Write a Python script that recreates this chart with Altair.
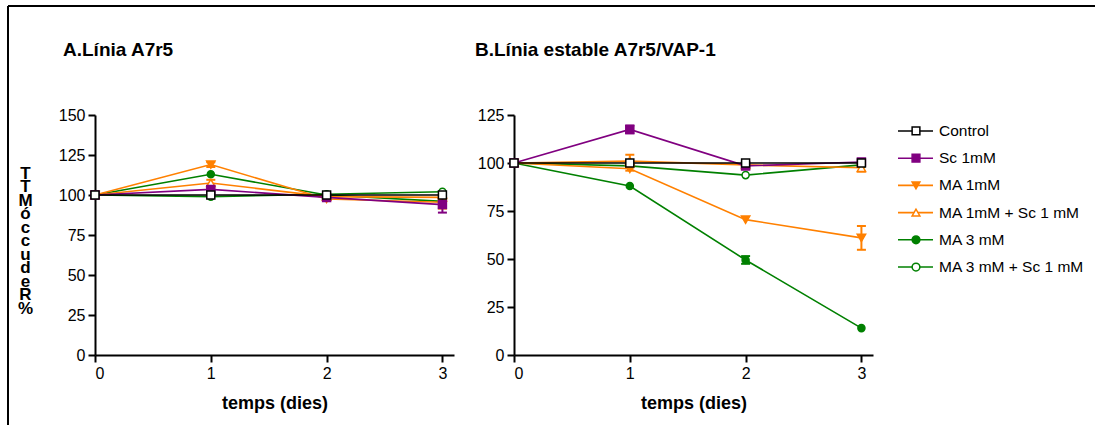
import altair as alt
import pandas as pd

FONT = "Liberation Sans"

days = [0, 1, 2, 3]
series = ["Control", "Sc 1mM", "MA 1mM", "MA 1mM + Sc 1 mM", "MA 3 mM", "MA 3 mM + Sc 1 mM"]
colors = ["#000000", "#800080", "#FF8000", "#FF8000", "#008000", "#008000"]
fills = ["#FFFFFF", "#800080", "#FF8000", "#FFFFFF", "#008000", "#FFFFFF"]
shapes = ["square", "square", "triangle-down", "triangle-up", "circle", "circle"]
sizes = [64, 64, 70, 70, 50, 50]

panel_titles = ["A.Línia A7r5", "B.Línia estable A7r5/VAP-1"]

# Panel A: Línia A7r5 (values per day 0..3)
a_values = {
    "Control": [100, 100, 100, 100],
    "Sc 1mM": [100, 103.5, 98.5, 94],
    "MA 1mM": [100, 119, 97.5, 95.5],
    "MA 1mM + Sc 1 mM": [100, 107.5, 99, 98.5],
    "MA 3 mM": [100, 113, 100, 96],
    "MA 3 mM + Sc 1 mM": [100, 99, 100.5, 102],
}
a_errors = {
    "Control": [0, 0, 0, 0],
    "Sc 1mM": [0, 0, 0, 5],
    "MA 1mM": [0, 1.5, 0, 4],
    "MA 1mM + Sc 1 mM": [0, 2, 0, 0],
    "MA 3 mM": [0, 0, 0, 0],
    "MA 3 mM + Sc 1 mM": [0, 0, 0, 0],
}

# Panel B: Línia estable A7r5/VAP-1
b_values = {
    "Control": [100, 100, 100, 100],
    "Sc 1mM": [100, 117.5, 98.5, 100.5],
    "MA 1mM": [100, 97, 70.5, 61],
    "MA 1mM + Sc 1 mM": [100, 101, 99, 97.5],
    "MA 3 mM": [100, 88, 49.5, 14],
    "MA 3 mM + Sc 1 mM": [100, 98.5, 93.7, 99],
}
b_errors = {
    "Control": [0, 0, 0, 0],
    "Sc 1mM": [0, 2, 0, 0],
    "MA 1mM": [0, 1, 0, 6.2],
    "MA 1mM + Sc 1 mM": [0, 3.3, 0, 2],
    "MA 3 mM": [0, 0, 2, 0],
    "MA 3 mM + Sc 1 mM": [0, 0, 0, 0],
}

y_title_chars = ["T", "T", "M", "ó", "c", "c", "u", "d", "e", "R", "%"]

rows = []
for pname, vals, errs in [("A", a_values, a_errors), ("B", b_values, b_errors)]:
    for s in series:
        for d, v, e in zip(days, vals[s], errs[s]):
            rows.append({"panel": pname, "series": s, "day": d, "value": v, "err": e})
df = pd.DataFrame(rows)

W, H = 359, 240


def make_x():
    return alt.X(
        "day:Q",
        scale=alt.Scale(domain=[0, 3.1], nice=False),
        axis=alt.Axis(values=days, format="d", title="temps (dies)",
                      titleFontSize=18, titleFontWeight="bold", titleFont=FONT,
                      titleBaseline="alphabetic", titleY=53, titleColor="#000000",
                      labelPadding=3),
    )


def make_y(field, ymax, with_title):
    kw = dict(values=list(range(0, ymax + 1, 25)), labelPadding=3)
    if with_title:
        kw.update(title=y_title_chars, titleAngle=0, titleX=-70, titleY=50,
                  titleAlign="center", titleBaseline="top", titleFontSize=17,
                  titleFontWeight="bold", titleFont=FONT, titleLineHeight=13.5,
                  titleColor="#000000")
    else:
        kw.update(title="")
    return alt.Y(field, scale=alt.Scale(domain=[0, ymax], nice=False), axis=alt.Axis(**kw))


def panel(pname, ymax, title_text, title_dx, with_ytitle, frame=False):
    layers = []
    one = pd.DataFrame({"t": [title_text]})
    if frame:
        layers.append(alt.Chart(one).mark_rule(color="#000000", strokeWidth=2).encode(
            x=alt.value(-87), y=alt.value(-109), y2=alt.value(310)))
        layers.append(alt.Chart(one).mark_rule(color="#000000", strokeWidth=2).encode(
            x=alt.value(-87), x2=alt.value(1000), y=alt.value(-109)))
    layers.append(alt.Chart(one).mark_text(
        align="left", baseline="alphabetic", fontSize=19, fontWeight="bold",
        font=FONT, color="#000000").encode(
        x=alt.value(title_dx), y=alt.value(-59), text="t:N"))
    for i in reversed(range(len(series))):
        s = series[i]
        base = alt.Chart(df).transform_filter(
            (alt.datum.panel == pname) & (alt.datum.series == s)
        )
        x = make_x()
        line = base.mark_line(color=colors[i], strokeWidth=1.6).encode(
            x=x, y=make_y("value:Q", ymax, with_ytitle))
        eb = base.transform_filter(alt.datum.err > 0).transform_calculate(
            lo="datum.value - datum.err", hi="datum.value + datum.err")
        rule = eb.mark_rule(color=colors[i], strokeWidth=2).encode(
            x=x, y=make_y("lo:Q", ymax, with_ytitle), y2="hi:Q")
        cap_lo = eb.mark_tick(color=colors[i], orient="horizontal", size=9,
                              thickness=2, opacity=1).encode(
            x=x, y=make_y("lo:Q", ymax, with_ytitle))
        cap_hi = eb.mark_tick(color=colors[i], orient="horizontal", size=9,
                              thickness=2, opacity=1).encode(
            x=x, y=make_y("hi:Q", ymax, with_ytitle))
        pts = base.mark_point(shape=shapes[i], filled=True, fill=fills[i],
                              stroke=colors[i], strokeWidth=1.5, size=sizes[i],
                              opacity=1).encode(
            x=x, y=make_y("value:Q", ymax, with_ytitle))
        layers += [line, rule, cap_lo, cap_hi, pts]
    return alt.layer(*layers).properties(width=W, height=H)


chart_a = panel("A", 150, panel_titles[0], -32, True, frame=True)
chart_b = panel("B", 125, panel_titles[1], -39, False)

leg_df = pd.DataFrame({"series": series})
ly = alt.Y("series:N", sort=series, scale=alt.Scale(type="point", padding=0.588), axis=None)
cscale = alt.Scale(domain=series, range=colors)
fscale = alt.Scale(domain=series, range=fills)
sscale = alt.Scale(domain=series, range=shapes)
leg_base = alt.Chart(leg_df)
leg_line = leg_base.mark_rule(strokeWidth=1.6).encode(
    x=alt.value(-35), x2=alt.value(0), y=ly,
    color=alt.Color("series:N", scale=cscale, legend=None))
leg_pts = leg_base.mark_point(filled=True, strokeWidth=1.5, size=60, opacity=1).encode(
    x=alt.value(-17), y=ly,
    stroke=alt.Stroke("series:N", scale=cscale, legend=None),
    fill=alt.Fill("series:N", scale=fscale, legend=None),
    shape=alt.Shape("series:N", scale=sscale, legend=None))
leg_text = leg_base.mark_text(align="left", baseline="middle", fontSize=15.5,
                              font=FONT, color="#000000").encode(
    x=alt.value(6), y=ly, text="series:N")
legend = alt.layer(leg_line, leg_pts, leg_text).properties(width=150, height=168).resolve_scale(
    color="independent")

chart = alt.hconcat(chart_a, chart_b, legend, spacing=60, bounds="flush").properties(
    padding={"left": 7, "top": 5, "right": 0, "bottom": 0},
    background="#FFFFFF",
).configure(font=FONT).configure_view(strokeWidth=0).configure_axis(
    grid=False, domainColor="#000000", domainWidth=2, tickColor="#000000",
    tickWidth=2, tickSize=7, labelColor="#000000", labelFont=FONT, labelFontSize=16,
)

chart.save("out.html", embed_options={"renderer": "svg", "actions": False})
